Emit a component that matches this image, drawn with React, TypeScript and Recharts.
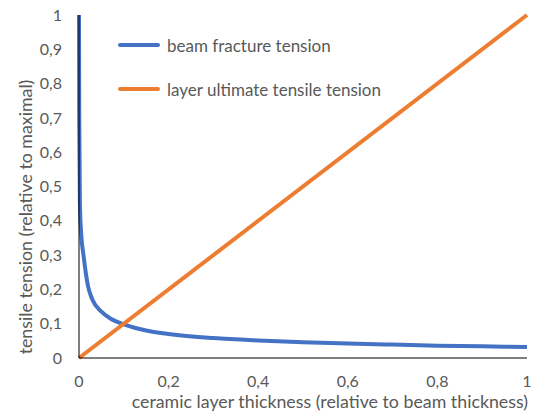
import { LineChart, Line, XAxis, YAxis } from "recharts";

// thickness of the ceramic layer relative to the beam
const thickness = [0, 0.0005, 0.002, 0.005, 0.01, 0.02, 0.03, 0.05, 0.07, 0.1, 0.15, 0.2, 0.3, 0.4, 0.5, 0.6, 0.7, 0.8, 0.9, 1];
const beamFracture = [1, 0.7, 0.45, 0.36, 0.3, 0.21, 0.17, 0.135, 0.115, 0.098, 0.08, 0.07, 0.058, 0.051, 0.046, 0.042, 0.039, 0.036, 0.034, 0.032];
const layerThickness = [0, 1];
const layerUltimate = [0, 1];

const xTicks = [0, 0.2, 0.4, 0.6, 0.8, 1];
const yTicks = [0, 0.1, 0.2, 0.3, 0.4, 0.5, 0.6, 0.7, 0.8, 0.9, 1];

const seriesNames = ["beam fracture tension", "layer ultimate tensile tension"];
const seriesColors = ["#4472C4", "#ED7D31"];

const beamData = thickness.map((x, i) => ({ x, y: beamFracture[i] }));
const layerData = layerThickness.map((x, i) => ({ x, y: layerUltimate[i] }));

const FONT = "Lato, 'Noto Sans', sans-serif";
const GREY = "#595959";

const fmt = (v: number) => String(v).replace(".", ",");

export default function App() {
    return (
        <div style={{ position: "fixed", left: 0, top: 0, width: 543, height: 417, background: "#fff" }}>
            <LineChart width={543} height={417} margin={{ top: 15, right: 16, bottom: 0, left: 0 }}>
                <XAxis
                    type="number"
                    dataKey="x"
                    domain={[0, 1]}
                    ticks={xTicks}
                    tickFormatter={fmt}
                    height={59}
                    stroke="#000"
                    tickLine={false}
                    tickMargin={12}
                    tick={{ fill: GREY, fontSize: 16, fontFamily: FONT }}
                    label={{
                        content: ({ viewBox }: any) => (
                            <text x={viewBox.x + viewBox.width + 1} y={viewBox.y + 50} textAnchor="end" fill={GREY} fontSize={17.8} fontFamily={FONT}>
                                ceramic layer thickness (relative to beam thickness)
                            </text>
                        ),
                    }}
                />
                <YAxis
                    type="number"
                    domain={[0, 1]}
                    ticks={yTicks}
                    tickFormatter={fmt}
                    width={79}
                    stroke="#000"
                    tickLine={false}
                    tickMargin={11}
                    tick={{ fill: GREY, fontSize: 16, fontFamily: FONT }}
                    label={{
                        content: () => {
                            const cx = 32;
                            const cy = 217;
                            return (
                                <text x={cx} y={cy} transform={`rotate(-90 ${cx} ${cy})`} textAnchor="middle" fill={GREY} fontSize={17.8} fontFamily={FONT}>
                                    tensile tension (relative to maximal)
                                </text>
                            );
                        },
                    }}
                />
                <Line data={beamData} dataKey="y" name={seriesNames[0]} type="monotone" stroke={seriesColors[0]} strokeWidth={4} dot={false} isAnimationActive={false} />
                <Line data={layerData} dataKey="y" name={seriesNames[1]} type="linear" stroke={seriesColors[1]} strokeWidth={4} dot={false} isAnimationActive={false} />
            </LineChart>
            <div style={{ position: "absolute", left: 118, top: 34, fontFamily: FONT, fontSize: 17, color: GREY }}>
                {seriesNames.map((name, i) => (
                    <div key={name} style={{ display: "flex", alignItems: "center", height: 22, marginBottom: 22 }}>
                        <span style={{ display: "inline-block", width: 42, height: 4.5, borderRadius: 2, background: seriesColors[i], marginRight: 7 }} />
                        <span>{name}</span>
                    </div>
                ))}
            </div>
        </div>
    );
}
